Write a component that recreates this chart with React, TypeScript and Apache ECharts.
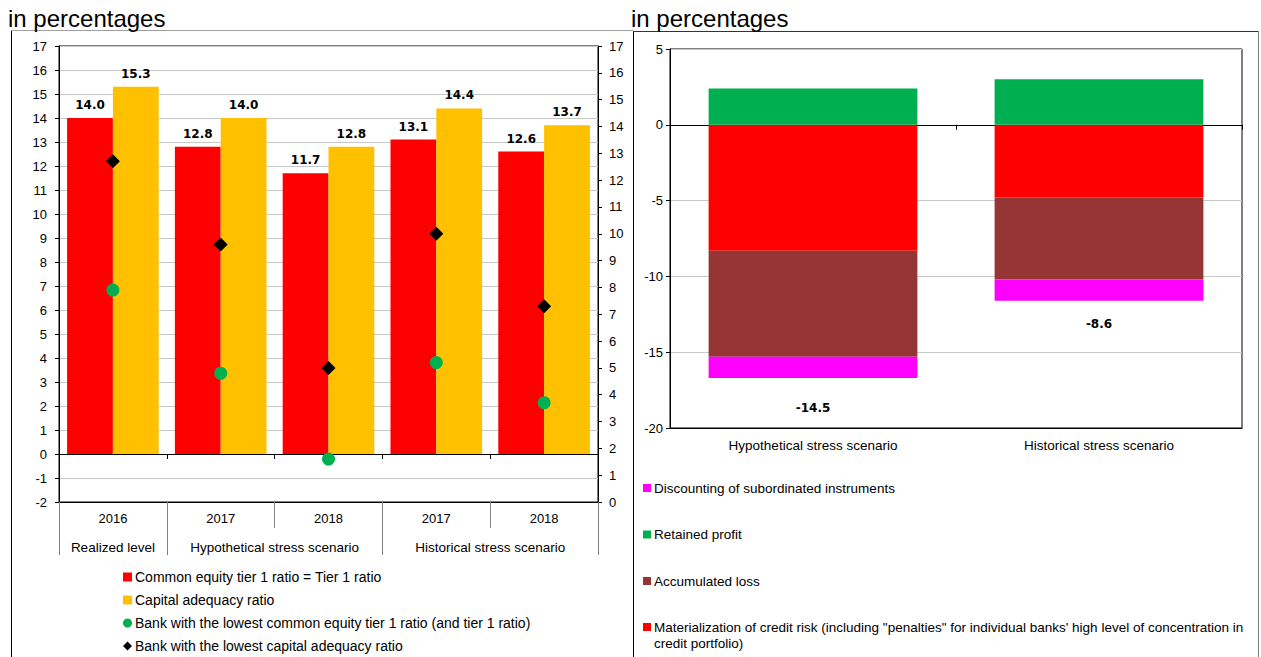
import React, { useEffect, useRef } from 'react';
import * as echarts from 'echarts';

// ---------- Data: left chart ----------
const years = ['2016', '2017', '2018', '2017', '2018'];
const groupLabels = ['Realized level', 'Hypothetical stress scenario', 'Historical stress scenario'];
const groupSizes = [1, 2, 2];
const cet1Ratio = [14.0, 12.8, 11.7, 13.1, 12.6];
const capitalAdequacyRatio = [15.3, 14.0, 12.8, 14.4, 13.7];
const lowestCet1Bank = [7.9, 4.8, 1.6, 5.2, 3.7];
const lowestCarBank = [12.7, 9.6, 5.0, 10.0, 7.3];

// ---------- Data: right chart ----------
const scenarios = ['Hypothetical stress scenario', 'Historical stress scenario'];
const creditRisk = [-8.3, -4.8];
const accumulatedLoss = [-7.0, -5.4];
const subordinatedDiscount = [-1.4, -1.4];
const retainedProfit = [2.4, 3.0];
const totalChange = [-14.5, -8.6];

const N_CET1 = 'Common equity tier 1 ratio = Tier 1 ratio';
const N_CAR = 'Capital adequacy ratio';
const N_LOW_CET1 = 'Bank with the lowest common equity tier 1 ratio (and tier 1 ratio)';
const N_LOW_CAR = 'Bank with the lowest capital adequacy ratio';
const N_DISC = 'Discounting of subordinated instruments';
const N_PROFIT = 'Retained profit';
const N_LOSS = 'Accumulated loss';
const N_CREDIT = 'Materialization of credit risk (including "penalties" for individual banks\' high level of concentration in credit portfolio)';

// ---------- Styles ----------
const FONT = '"Liberation Sans", Arial, sans-serif';
const BOLD_FONT = '"DejaVu Sans", Verdana, sans-serif';
const RED = '#ff0000';
const YELLOW = '#ffc000';
const GREEN = '#00b050';
const BROWN = '#963634';
const MAGENTA = '#ff00ff';
const GRID_GRAY = '#c8c8c8';
const totalLabelGaps = [24, 17];
// square marker sitting at the top of a taller icon box (aligns with the first of two text lines)
const TOP_SQUARE_ICON = 'path://M0 0H8V8H0Z M0 24H0.01V24.01H0Z';

const axisText = { color: '#000', fontSize: 13, fontFamily: FONT };
const catText = { color: '#000', fontSize: 13.5, fontFamily: FONT };

export default function App() {
  const ref = useRef<HTMLDivElement>(null);

  useEffect(() => {
    if (!ref.current) return;
    const chart = echarts.init(ref.current, undefined, { renderer: 'svg' });

    const barLabel = {
      show: true, position: 'top', distance: 7, color: '#000', fontFamily: BOLD_FONT,
      fontWeight: 'bold', fontSize: 12, formatter: (p: any) => p.value.toFixed(1),
    };

    const option: any = {
      animation: false,
      backgroundColor: '#fff',
      textStyle: { fontFamily: FONT },
      grid: [
        { left: 59, top: 46, right: 663, bottom: 155, show: true, borderColor: '#000', borderWidth: 1, backgroundColor: 'transparent', containLabel: false, outerBoundsMode: 'none' },
        { left: 670, top: 49, right: 19, bottom: 229, show: true, borderColor: '#000', borderWidth: 1, backgroundColor: 'transparent', containLabel: false, outerBoundsMode: 'none' },
      ],
      xAxis: [
        {
          type: 'category', gridIndex: 0, data: years, position: 'bottom',
          axisLine: { onZero: false, lineStyle: { color: '#000' } },
          axisTick: { show: true, length: 26, lineStyle: { color: '#808080' } },
          axisLabel: { ...axisText, margin: 10, interval: 0 },
          splitLine: { show: false },
        },
        {
          type: 'category', gridIndex: 0, data: years, position: 'bottom',
          axisLine: { onZero: true, onZeroAxisIndex: 0, lineStyle: { color: '#000' } },
          axisTick: { show: true, length: 5, lineStyle: { color: '#000' } },
          axisLabel: { show: false },
          splitLine: { show: false },
        },
        {
          type: 'category', gridIndex: 1, data: scenarios, position: 'bottom',
          axisLine: { onZero: false, lineStyle: { color: '#000' } },
          axisTick: { show: false },
          axisLabel: { ...catText, margin: 10, interval: 0 },
          splitLine: { show: false },
        },
        {
          type: 'category', gridIndex: 1, data: scenarios, position: 'bottom',
          axisLine: { onZero: true, onZeroAxisIndex: 2, lineStyle: { color: '#000' } },
          axisTick: { show: true, length: 5, lineStyle: { color: '#000' } },
          axisLabel: { show: false },
          splitLine: { show: false },
        },
      ],
      yAxis: [
        {
          type: 'value', gridIndex: 0, position: 'left', min: -2, max: 17, interval: 1,
          axisLine: { show: true, lineStyle: { color: '#000' } },
          axisTick: { show: true, length: 4, lineStyle: { color: '#000' } },
          axisLabel: { ...axisText, margin: 12 },
          splitLine: { show: true, lineStyle: { color: GRID_GRAY } },
        },
        {
          type: 'value', gridIndex: 0, position: 'right', min: 0, max: 17, interval: 1,
          axisLine: { show: true, lineStyle: { color: '#000' } },
          axisTick: { show: true, length: 4, lineStyle: { color: '#000' } },
          axisLabel: { ...axisText, margin: 11 },
          splitLine: { show: false },
        },
        {
          type: 'value', gridIndex: 1, position: 'left', min: -20, max: 5, interval: 5,
          axisLine: { show: true, lineStyle: { color: '#000' } },
          axisTick: { show: true, length: 4, lineStyle: { color: '#000' } },
          axisLabel: { ...axisText, margin: 7 },
          splitLine: { show: true, lineStyle: { color: GRID_GRAY } },
        },
      ],
      legend: [
        {
          orient: 'vertical', left: 123, top: 569.5, padding: 0, itemGap: 8,
          itemWidth: 9, itemHeight: 9, selectedMode: false,
          textStyle: { color: '#000', fontFamily: FONT, fontSize: 14, lineHeight: 15, padding: [0, 0, 0, -2] },
          data: [
            { name: N_CET1, icon: 'rect' },
            { name: N_CAR, icon: 'rect' },
            { name: N_LOW_CET1, icon: 'circle' },
            { name: N_LOW_CAR, icon: 'diamond' },
          ],
        },
        {
          orient: 'vertical', left: 643, top: 480.5, padding: 0, itemGap: 31.5,
          itemWidth: 8, itemHeight: 8, selectedMode: false,
          textStyle: { color: '#000', fontFamily: FONT, fontSize: 13.5, lineHeight: 15, padding: [0, 0, 0, -2] },
          data: [
            { name: N_DISC, icon: 'rect' },
            { name: N_PROFIT, icon: 'rect' },
            { name: N_LOSS, icon: 'rect' },
          ],
        },
        {
          orient: 'vertical', left: 643, top: 619, padding: 0,
          itemWidth: 8, itemHeight: 24, selectedMode: false,
          textStyle: { color: '#000', fontFamily: FONT, fontSize: 13.5, lineHeight: 16, padding: [0, 0, 0, -2] },
          formatter: (name: string) => name.replace(' in credit', ' in\ncredit'),
          data: [{ name: N_CREDIT, icon: TOP_SQUARE_ICON }],
        },
      ],
      series: [
        {
          name: N_CET1, type: 'bar', xAxisIndex: 0, yAxisIndex: 0, data: cet1Ratio,
          itemStyle: { color: RED }, barGap: '0%', barCategoryGap: '15%', label: barLabel,
        },
        {
          name: N_CAR, type: 'bar', xAxisIndex: 0, yAxisIndex: 0, data: capitalAdequacyRatio,
          itemStyle: { color: YELLOW }, barGap: '0%', barCategoryGap: '15%', label: barLabel,
        },
        {
          name: N_LOW_CET1, type: 'scatter', xAxisIndex: 0, yAxisIndex: 1, data: lowestCet1Bank,
          symbol: 'circle', symbolSize: 13, itemStyle: { color: GREEN, opacity: 1 }, z: 5,
        },
        {
          name: N_LOW_CAR, type: 'scatter', xAxisIndex: 0, yAxisIndex: 1, data: lowestCarBank,
          symbol: 'diamond', symbolSize: 14, itemStyle: { color: '#000', opacity: 1 }, z: 5,
        },
        {
          name: N_CREDIT, type: 'bar', xAxisIndex: 2, yAxisIndex: 2, stack: 'contrib', data: creditRisk,
          itemStyle: { color: RED }, barCategoryGap: '27%',
        },
        {
          name: N_LOSS, type: 'bar', xAxisIndex: 2, yAxisIndex: 2, stack: 'contrib', data: accumulatedLoss,
          itemStyle: { color: BROWN }, barCategoryGap: '27%',
        },
        {
          name: N_DISC, type: 'bar', xAxisIndex: 2, yAxisIndex: 2, stack: 'contrib',
          data: subordinatedDiscount.map((v, i) => ({ value: v, label: { distance: totalLabelGaps[i] } })),
          itemStyle: { color: MAGENTA }, barCategoryGap: '27%',
          label: { show: true, position: 'bottom', color: '#000', fontFamily: BOLD_FONT, fontWeight: 'bold', fontSize: 12, formatter: (p: any) => totalChange[p.dataIndex].toFixed(1) },
        },
        {
          name: N_PROFIT, type: 'bar', xAxisIndex: 2, yAxisIndex: 2, stack: 'contrib', data: retainedProfit,
          itemStyle: { color: GREEN }, barCategoryGap: '27%',
        },
      ],
    };

    chart.setOption(option);

    // Decorations: frames, titles, group separators computed from axis scales
    const c0 = chart.convertToPixel({ xAxisIndex: 0 }, 0) as number;
    const c1 = chart.convertToPixel({ xAxisIndex: 0 }, 1) as number;
    const bw = c1 - c0;
    const startX = c0 - bw / 2;
    const yBottom = chart.convertToPixel({ yAxisIndex: 0 }, -2) as number;
    const graphics: any[] = [];
    let acc = 0;
    const boundaries = [0];
    groupSizes.forEach((s) => { acc += s; boundaries.push(acc); });
    boundaries.forEach((b) => {
      const x = Math.round(startX + b * bw) + 0.5;
      graphics.push({ type: 'line', silent: true, shape: { x1: x, y1: yBottom, x2: x, y2: yBottom + 53 }, style: { stroke: '#808080', lineWidth: 1 } });
    });
    groupLabels.forEach((label, i) => {
      const cx = startX + ((boundaries[i] + boundaries[i + 1]) / 2) * bw;
      graphics.push({ type: 'text', silent: true, style: { text: label, x: cx, y: yBottom + 45, align: 'center', verticalAlign: 'middle', fontSize: 13.5, fontFamily: FONT, fill: '#000' } });
    });
    // frames
    graphics.push({ type: 'line', silent: true, shape: { x1: 11, y1: 30.5, x2: 633, y2: 30.5 }, style: { stroke: '#a0a0a0', lineWidth: 1 } });
    graphics.push({ type: 'line', silent: true, shape: { x1: 11.5, y1: 31, x2: 11.5, y2: 660 }, style: { stroke: '#000', lineWidth: 1 } });
    graphics.push({ type: 'line', silent: true, shape: { x1: 633.5, y1: 31, x2: 633.5, y2: 660 }, style: { stroke: '#000', lineWidth: 1 } });
    graphics.push({ type: 'line', silent: true, shape: { x1: 633, y1: 31.5, x2: 1258, y2: 31.5 }, style: { stroke: '#333', lineWidth: 1 } });
    graphics.push({ type: 'line', silent: true, shape: { x1: 1258.5, y1: 31, x2: 1258.5, y2: 660 }, style: { stroke: '#808080', lineWidth: 1 } });
    // titles
    graphics.push({ type: 'text', silent: true, style: { text: 'in percentages', x: 8, y: 18, verticalAlign: 'middle', fontSize: 24, fontFamily: FONT, fill: '#000' } });
    graphics.push({ type: 'text', silent: true, style: { text: 'in percentages', x: 631, y: 18, verticalAlign: 'middle', fontSize: 24, fontFamily: FONT, fill: '#000' } });

    chart.setOption({ graphic: graphics });

    return () => chart.dispose();
  }, []);

  return <div ref={ref} style={{ position: 'fixed', left: 0, top: 0, width: 1261, height: 657 }} />;
}
